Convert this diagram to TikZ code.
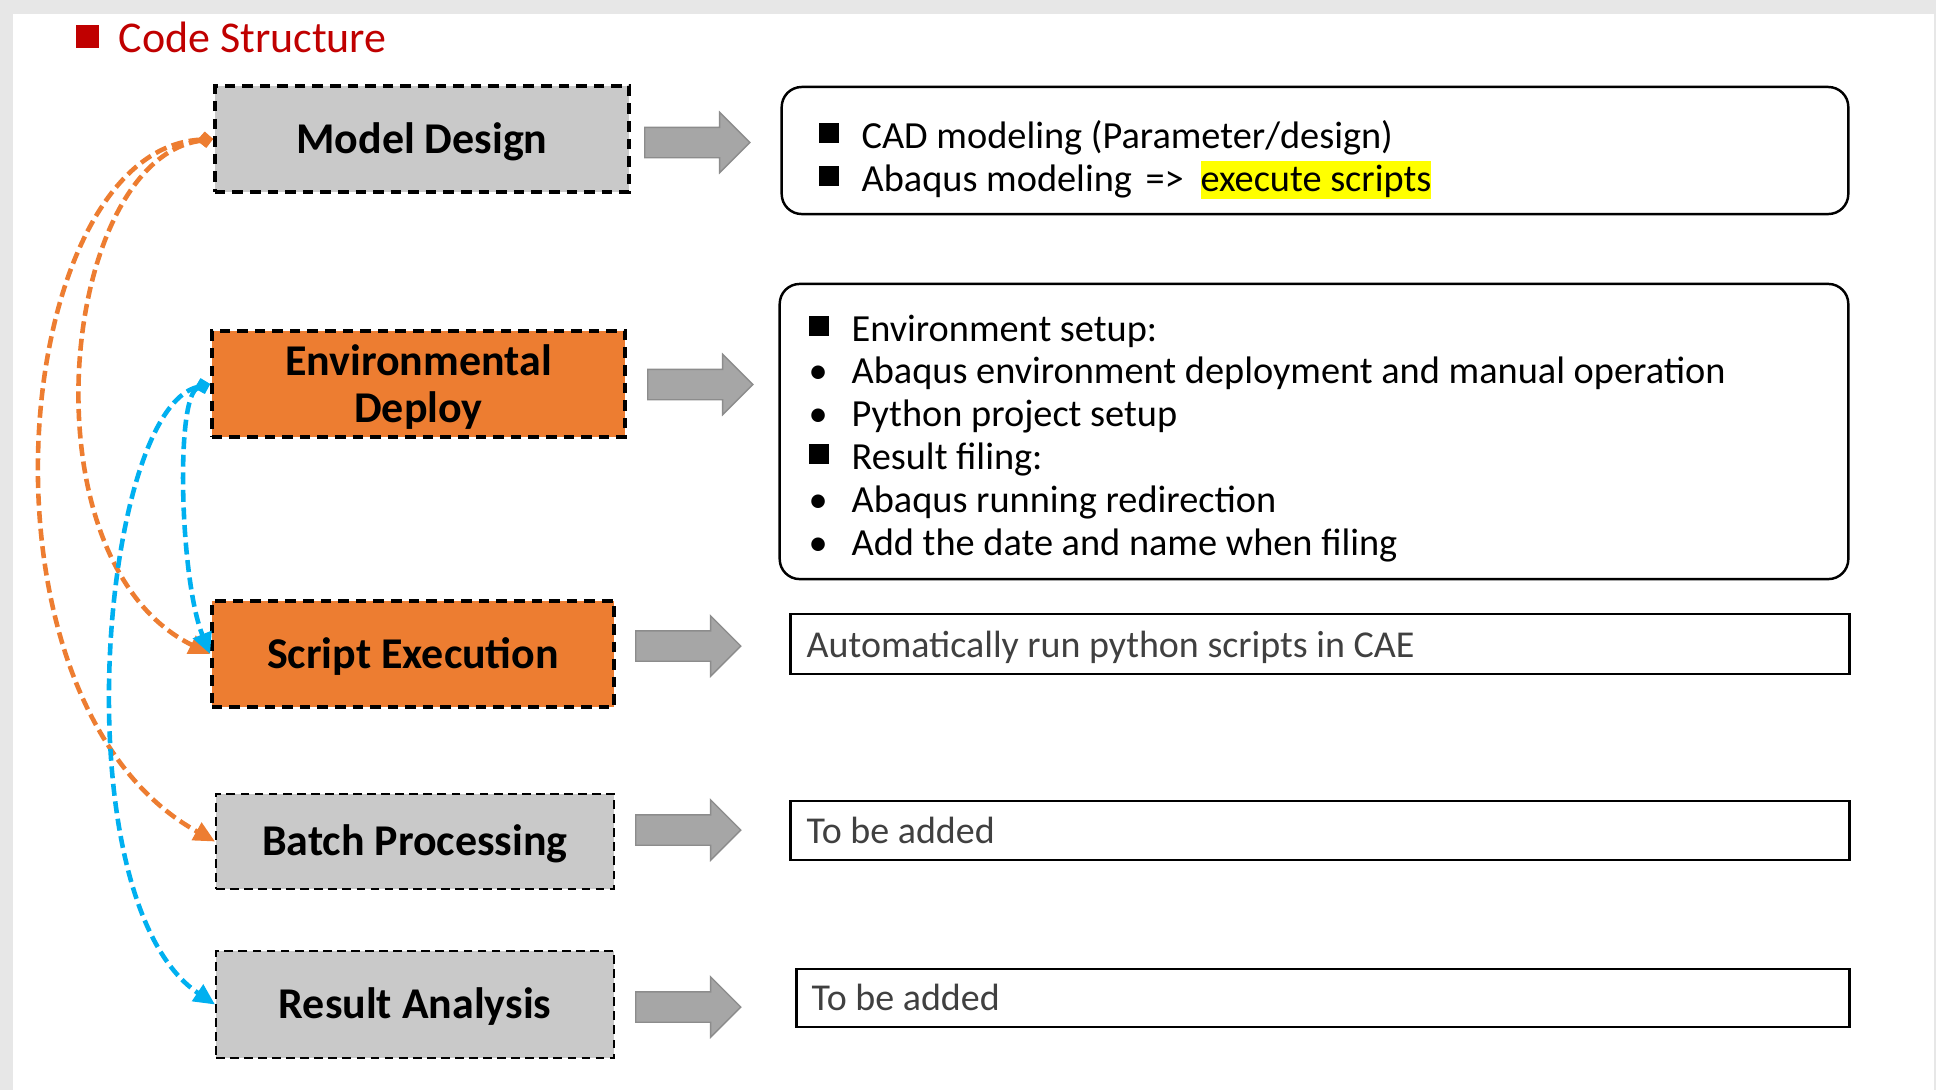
\documentclass[tikz,border=0pt]{standalone}
\usepackage{fontspec}
\setmainfont{Carlito}
\usetikzlibrary{arrows.meta,shapes.arrows}

\definecolor{slidegray}{HTML}{E7E7E7}
\definecolor{boxgray}{HTML}{C9C9C9}
\definecolor{boxorange}{HTML}{ED7D31}
\definecolor{linkorange}{HTML}{ED7D31}
\definecolor{linkblue}{HTML}{00B0F0}
\definecolor{titlered}{HTML}{C00000}
\definecolor{arrowgray}{HTML}{A6A6A6}
\definecolor{arrowedge}{HTML}{8C8C8C}
\definecolor{textgray}{HTML}{404040}
\definecolor{marker}{HTML}{FFFF00}

\newcommand{\sqbullet}{\makebox[12.2pt][l]{\raisebox{1.4pt}{\rule{5.9pt}{5.7pt}}}}
\newcommand{\dotbullet}{\makebox[12.2pt][l]{\textbullet}}
\newcommand{\marked}[1]{{\setlength{\fboxsep}{0pt}\colorbox{marker}{\rule[-2.3pt]{0pt}{10.8pt}#1}}}
\newcommand{\lowered}[2][0.7pt]{\raisebox{-#1}[\height][\depth]{#2}}

\begin{document}
\begin{tikzpicture}[x=0.01cm, y=-0.01cm,
	stage/.style={rectangle, draw=black, line width=1pt, dash pattern=on 3pt off 2pt,
		minimum height=1.06cm, inner sep=0pt,
		font=\bfseries\fontsize{12.5}{13.4}\selectfont},
	thinstage/.style={line width=0.5pt, dash pattern=on 2.5pt off 1.5pt},
	blockarrow/.style={single arrow, anchor=tail, fill=arrowgray, draw=arrowedge, line width=0.4pt,
		minimum height=1.05cm, inner xsep=0pt, inner ysep=0.145cm, single arrow head extend=0.15cm},
	infobox/.style={rectangle, draw=black, line width=0.7pt, inner sep=0pt},
	desctext/.style={anchor=base west, inner sep=0pt, font=\fontsize{10.9}{12}\selectfont},
	link/.style={line width=1.3pt, dash pattern=on 3.4pt off 1.6pt,
		{Diamond[length=4.5pt,width=4.5pt]}-{Triangle[length=6pt,width=5.5pt]}},
	orangelink/.style={link, draw=linkorange},
	bluelink/.style={link, draw=linkblue}]

	% slide
	\fill[slidegray] (0,0) rectangle (1936,1090);
	\fill[white] (13,14) rectangle (1934,1090);
	\useasboundingbox (0,0) rectangle (1936,1090);

	\node[anchor=base west, inner sep=0pt, text=titlered, font=\fontsize{12.5}{14}\selectfont] (title) at (75,52)
		{\raisebox{1.1pt}{\rule{6.5pt}{6.5pt}}\hspace{5.7pt}Code Structure};

	% stages
	\node[stage, fill=boxgray, minimum width=4.14cm] (md) at (422,139) {\lowered{Model Design}};
	\node[stage, fill=boxorange, minimum width=4.13cm] (ed) at (418.5,384)
		{\lowered[1.5pt]{\begin{tabular}{@{}c@{}}Environmental\\Deploy\end{tabular}}};
	\node[stage, fill=boxorange, minimum width=4.02cm] (se) at (413,654) {\lowered{Script Execution}};
	\node[stage, thinstage, fill=boxgray, minimum width=3.98cm, minimum height=0.95cm] (bp) at (415,841.5) {\lowered{Batch Processing}};
	\node[stage, thinstage, fill=boxgray, minimum width=3.98cm, minimum height=1.07cm] (ra) at (415,1004.5) {\lowered{Result Analysis}};

	\node[blockarrow] (mdarrow) at (644,142.5) {};
	\node[blockarrow] (edarrow) at (647,384.5) {};
	\node[blockarrow] (searrow) at (635,646) {};
	\node[blockarrow] (bparrow) at (635,830) {};
	\node[blockarrow] (raarrow) at (635,1007) {};

	% descriptions
	\node[infobox, rounded corners=0.2cm, minimum width=10.66cm, minimum height=1.27cm] (mdinfo) at (1315,150.5) {};
	\node[infobox, rounded corners=0.2cm, minimum width=10.68cm, minimum height=2.95cm] (edinfo) at (1314,431.5) {};
	\node[infobox, minimum width=10.58cm, minimum height=0.60cm] (seinfo) at (1320,644) {};
	\node[infobox, minimum width=10.58cm, minimum height=0.59cm] (bpinfo) at (1320,830.5) {};
	\node[infobox, minimum width=10.52cm, minimum height=0.58cm] (rainfo) at (1323,998) {};

	\node[desctext] (cad) at (818,148) {\sqbullet CAD modeling (Parameter/design)};
	\node[desctext] (abq) at (818,191) {\sqbullet Abaqus modeling\hspace{1.4pt} =>\hspace{2.3pt} \marked{execute scripts}};
	\node[desctext] (envsetup) at (808,341) {\sqbullet Environment setup:};
	\node[desctext] (envdeploy) at (808,383) {\dotbullet Abaqus environment deployment and manual operation};
	\node[desctext] (pysetup) at (808,426) {\dotbullet Python project setup};
	\node[desctext] (filing) at (808,469) {\sqbullet Result filing:};
	\node[desctext] (redirect) at (808,512) {\dotbullet Abaqus running redirection};
	\node[desctext] (datename) at (808,555) {\dotbullet Add the date and name when filing};
	\node[desctext, text=textgray, font=\fontsize{10.8}{12}\selectfont] (autorun) at (806,657) {Automatically run python scripts in CAE};
	\node[desctext, text=textgray, font=\fontsize{10.8}{12}\selectfont] (bptodo) at (806,843) {To be added};
	\node[desctext, text=textgray, font=\fontsize{10.8}{12}\selectfont] (ratodo) at (811,1010) {To be added};

	% links
	\draw[orangelink] (md.west) .. controls (60,160) and (20,560) .. (se.west);
	\draw[orangelink] (md.west) .. controls (10,150) and (-40,700) .. (bp.west);
	\draw[bluelink] (ed.west) .. controls (175,395) and (180,580) .. (se.west);
	\draw[bluelink] (ed.west) .. controls (100,410) and (60,900) .. (ra.west);
\end{tikzpicture}
\end{document}
